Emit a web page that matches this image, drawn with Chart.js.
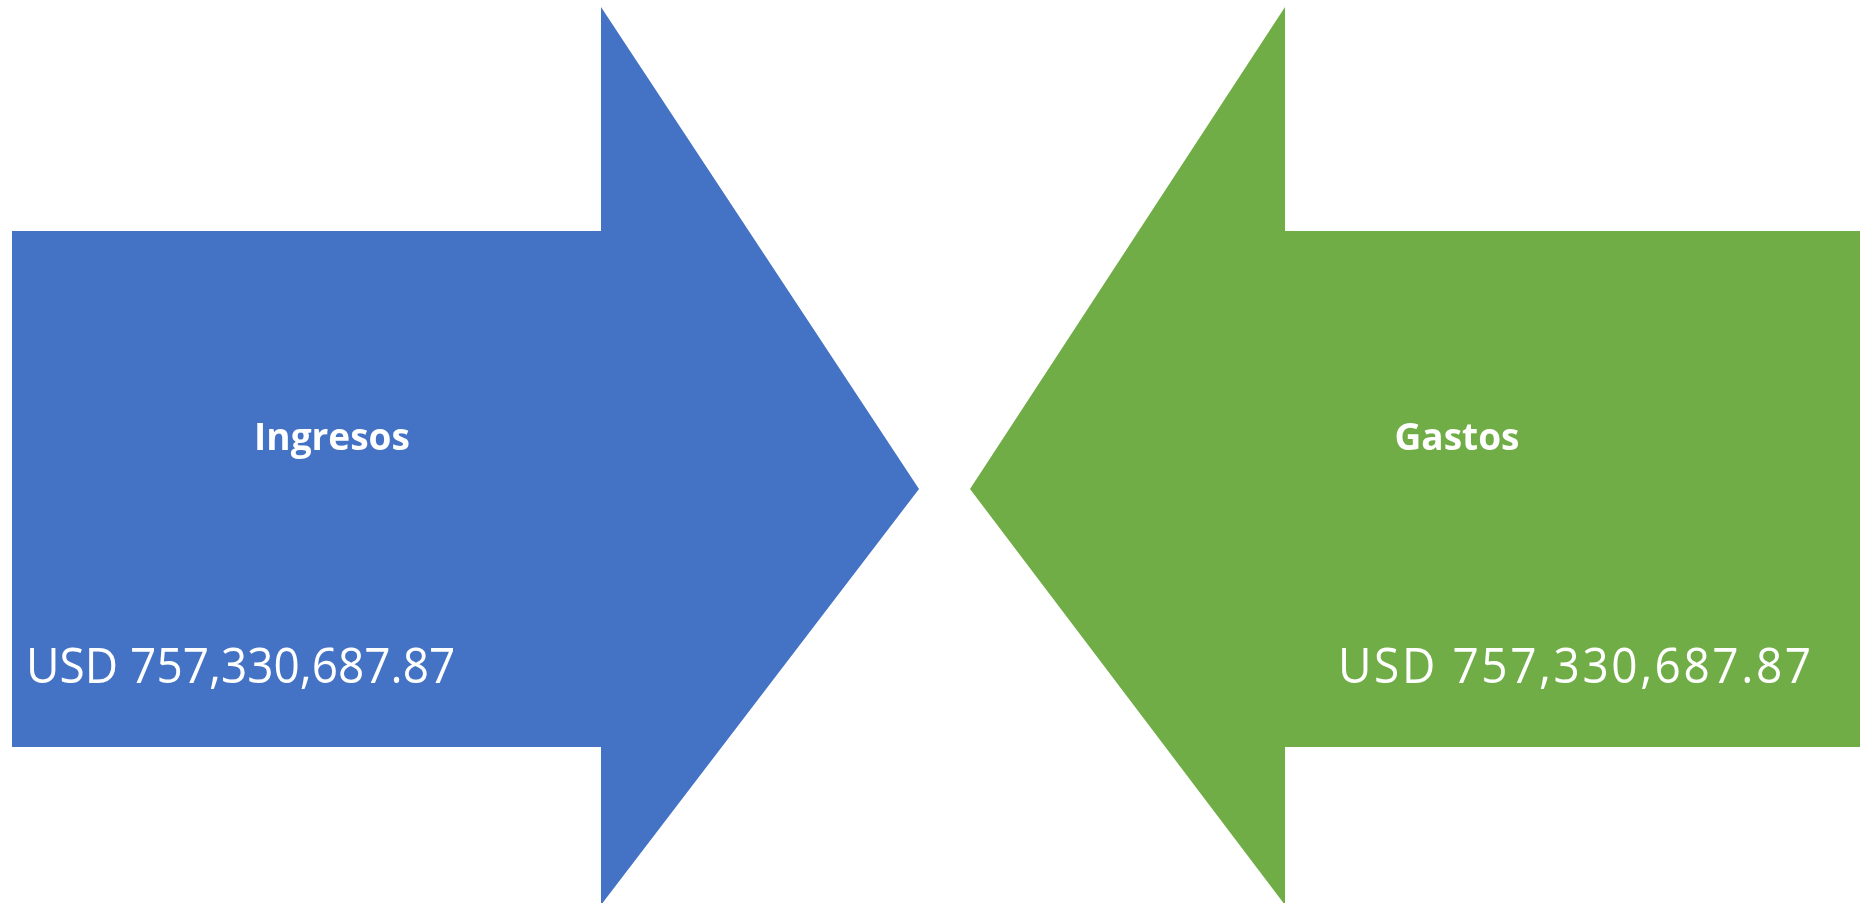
<!DOCTYPE html>
<html>
<head>
<meta charset="utf-8">
<script src="https://cdn.jsdelivr.net/npm/chart.js@4/dist/chart.umd.min.js"></script>
<style>
  html, body { margin: 0; padding: 0; background: #ffffff; }
  #wrap { width: 1860px; height: 903px; }
</style>
</head>
<body>
<div id="wrap"><canvas id="flowChart" width="1860" height="903"></canvas></div>
<script>
// --- datos ---
const categories = ['Ingresos', 'Gastos'];
const amounts = [757330687.87, 757330687.87];

// contorno de las flechas (unidades de los ejes)
const ingresosOutlineX = [12, 601, 601, 919, 601, 601, 12];
const ingresosOutlineY = [231, 231, 7, 489, 905, 747, 747];
const gastosOutlineX = [1860, 1285, 1285, 970, 1285, 1285, 1860];
const gastosOutlineY = [231, 231, 7, 489, 905, 747, 747];

// donde van los textos (unidades de los ejes)
const titleX = [332, 1457];
const titleY = [439, 439];
const amountX = [26, 1338];
const amountY = [669, 669];
const amountSpacing = [0, 2.8];

const colors = ['#4472C4', '#70AD47'];

const toPoints = (xs, ys) => xs.map((x, i) => ({ x: x, y: ys[i] }));

function fmtUSD(v) {
    return 'USD ' + v.toLocaleString('en-US', { minimumFractionDigits: 2, maximumFractionDigits: 2 });
}

// etiquetas dentro de cada flecha
const arrowLabels = {
    id: 'arrowLabels',
    afterDatasetsDraw(chart) {
        const ctx = chart.ctx;
        const xs = chart.scales.x;
        const ys = chart.scales.y;
        categories.forEach((cat, i) => {
            ctx.save();
            ctx.letterSpacing = '0px';
            ctx.fillStyle = '#ffffff';
            ctx.textBaseline = 'middle';
            ctx.font = 'bold 37px "Open Sans"';
            ctx.textAlign = 'center';
            ctx.fillText(cat, xs.getPixelForValue(titleX[i]), ys.getPixelForValue(titleY[i]));
            ctx.restore();

            // numero un poco mas estrecho, como Calibri
            ctx.save();
            ctx.fillStyle = '#ffffff';
            ctx.textBaseline = 'middle';
            ctx.textAlign = 'left';
            ctx.font = '50px "Open Sans"';
            ctx.letterSpacing = amountSpacing[i] + 'px';
            ctx.translate(xs.getPixelForValue(amountX[i]), ys.getPixelForValue(amountY[i]));
            ctx.scale(0.92, 1);
            ctx.fillText(fmtUSD(amounts[i]), 0, 0);
            ctx.restore();
            ctx.letterSpacing = '0px';
        });
    }
};

new Chart(document.getElementById('flowChart').getContext('2d'), {
    type: 'scatter',
    data: {
        datasets: [
            {
                label: categories[0],
                data: toPoints(ingresosOutlineX, ingresosOutlineY),
                showLine: true,
                fill: 'shape',
                backgroundColor: colors[0],
                borderColor: colors[0],
                borderWidth: 0,
                pointRadius: 0,
                tension: 0
            },
            {
                label: categories[1],
                data: toPoints(gastosOutlineX, gastosOutlineY),
                showLine: true,
                fill: 'shape',
                backgroundColor: colors[1],
                borderColor: colors[1],
                borderWidth: 0,
                pointRadius: 0,
                tension: 0
            }
        ]
    },
    options: {
        responsive: false,
        animation: false,
        layout: { padding: 0 },
        plugins: {
            legend: { display: false },
            tooltip: { enabled: false }
        },
        scales: {
            x: { type: 'linear', min: 0, max: 1860, display: false },
            y: { type: 'linear', min: 0, max: 903, reverse: true, display: false }
        }
    },
    plugins: [arrowLabels]
});
</script>
</body>
</html>
